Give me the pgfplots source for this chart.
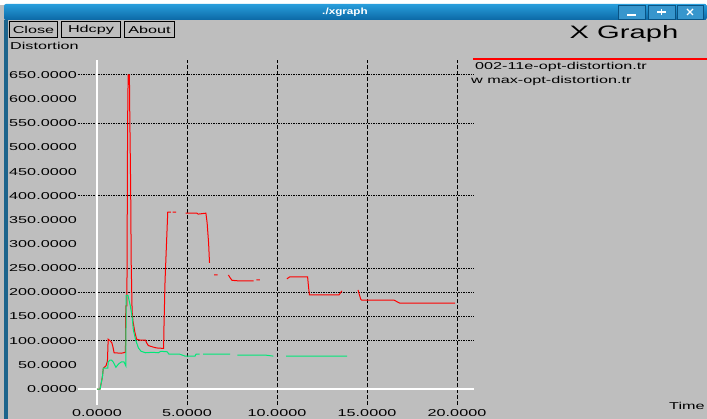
\documentclass[border=0pt]{standalone}
\usepackage{fontspec}
\setmainfont{Liberation Sans}
\usepackage{graphicx}
\usepackage{pgfplots}
\pgfplotsset{compat=1.18}
\definecolor{bg}{RGB}{190,190,190}
\definecolor{xgred}{RGB}{255,0,0}
\definecolor{xggreen}{RGB}{0,232,120}
\definecolor{wmtop}{RGB}{40,158,220}
\definecolor{wmbot}{RGB}{12,104,165}
\definecolor{wmside}{RGB}{28,100,140}
\definecolor{wmbtn}{RGB}{55,150,205}
\newcommand\xs[1]{\scalebox{1.62}[1]{#1}}
\begin{document}
\begin{tikzpicture}[x=1pt,y=1pt,font=\fontsize{10}{12}\selectfont]
\fill[bg] (0,0) rectangle (707,419);
\fill[white] (0,414) rectangle (707,419);
\shade[top color=wmtop,bottom color=wmbot,rounded corners=2pt] (4,399) rectangle (707,415);
\fill[wmside] (4,0) rectangle (8,399);
% window buttons
\foreach \a/\b in {618/645,648/675,677/703}{
  \fill[wmbtn] (\a,400) rectangle (\b,414);
  \draw[wmbot!80!black,line width=0.6pt] (\a,400) rectangle (\b,414);
}
\draw[white,line width=1.2pt] (627,404) -- (636,404);
\draw[white,line width=1.2pt] (657,407) -- (666,407) (661.5,404) -- (661.5,410);
\draw[white,line width=1.2pt] (687,404) -- (693,410) (687,410) -- (693,404);
\node[white,font=\bfseries\fontsize{9}{10}\selectfont] at (345,407) {\scalebox{1.3}[1]{./xgraph}};
% app buttons
\draw[black,fill=bg,line width=0.8pt] (9.5,381.5) rectangle (57.5,397.5);
\node at (33.5,389.5) {\xs{Close}};
\draw[black,fill=bg,line width=0.8pt] (61.5,381.5) rectangle (120.5,397.5);
\node at (91,389.5) {\xs{Hdcpy}};
\draw[black,fill=bg,line width=0.8pt] (124.5,381.5) rectangle (174.5,397.5);
\node at (149.5,389.5) {\xs{About}};
\node[anchor=west,inner sep=0pt] at (10,373) {\xs{Distortion}};
\node[font=\fontsize{18}{20}\selectfont] at (624,385) {\scalebox{1.62}[1]{X Graph}};
% legend
\fill[red] (473,358.5) rectangle (707,360.5);
\node[anchor=west,inner sep=0pt] at (475,352) {\xs{002-11e-opt-distortion.tr}};
\node[anchor=west,inner sep=0pt] at (471,338) {\xs{w max-opt-distortion.tr}};
\node[anchor=west,inner sep=0pt] at (669,13) {\xs{Time}};
\begin{axis}[
  at={(78pt,14pt)}, anchor=south west,
  scale only axis, width=396pt, height=345pt,
  xmin=-1.056, xmax=20.944, ymin=-33.1, ymax=681,
  axis line style={draw=none}, tick style={draw=none},
  xtick={0,5,10,15,20}, ytick={0,50,...,650},
  xmajorgrids=true, ymajorgrids=false,
  major grid style={black,line width=1pt,dash pattern=on 4pt off 2pt},
  extra y ticks={100,150,200,250,400,550,650},
  extra y tick labels={},
  extra y tick style={ymajorgrids=true, major grid style={black,line width=1pt,dash pattern=on 2pt off 1pt on 1pt off 1pt}},
  yticklabel={\xs{\pgfmathprintnumber[fixed,fixed zerofill,precision=4,assume math mode=true]{\tick}}},
  xticklabel={\xs{\pgfmathprintnumber[fixed,fixed zerofill,precision=4,assume math mode=true]{\tick}}},
  yticklabel style={anchor=east,inner sep=0pt,xshift=-1pt},
  xticklabel style={anchor=north,inner sep=0pt,yshift=-4pt},
  unbounded coords=jump,
  font=\fontsize{10}{12}\selectfont,
]
\draw[white,line width=1.3pt] (axis cs:0,-33.1) -- (axis cs:0,681);
\draw[white,line width=1.3pt] (axis cs:-1.056,0) -- (axis cs:20.944,0);
\addplot[xgred,line width=1pt] coordinates {
(0,0) (0.17,0) (0.2,6) (0.3,25) (0.35,43) (0.5,48) (0.58,58) (0.62,103) (0.72,100) (0.82,96) (0.88,88) (0.95,75) (1.35,74) (1.58,76) (1.6,172) (1.66,172) (1.68,360) (1.7,550) (1.73,650) (1.8,650) (1.82,571) (1.87,416) (1.9,261) (1.95,160) (2.0,140) (2.1,118) (2.2,103) (2.4,101) (2.7,101) (2.75,96) (2.85,90) (3.1,87) (3.3,85) (3.7,84) (3.72,128) (3.78,224) (3.88,319) (3.93,366) (4.1,366) (4.15,nan) (4.2,366) (4.4,366) (4.6,nan) (4.92,364) (5.55,364) (5.62,362) (5.85,363) (6.05,364) (6.12,343) (6.2,302) (6.25,261) (6.35,nan) (6.5,236) (6.7,236) (7.0,nan) (7.3,236) (7.4,230) (7.5,225) (7.8,224) (8.7,224) (8.78,nan) (8.85,226) (9.05,226) (9.5,nan) (10.55,228) (10.7,232) (11.7,232) (11.75,212) (11.8,195) (13.45,195) (13.6,203) (14,nan) (14.5,205) (14.65,186) (14.7,184) (16.5,184) (16.8,178) (19.9,178)
};
\addplot[xggreen,line width=1pt] coordinates {
(0,0) (0.17,0) (0.2,6) (0.3,25) (0.35,43) (0.6,43) (0.62,56) (0.72,60) (0.8,60) (0.9,56) (1.05,45) (1.2,52) (1.35,56) (1.5,56) (1.6,48) (1.62,194) (1.72,194) (1.85,172) (1.95,150) (2.02,122) (2.15,101) (2.3,85) (2.45,78) (2.7,75) (3.1,76) (3.4,75) (3.55,78) (3.9,77) (4.0,72) (4.6,72) (4.9,68) (5.45,68) (5.5,72) (5.7,72) (5.8,nan) (5.9,72) (7.4,72) (7.6,nan) (7.8,70) (9.4,70) (9.8,68) (10.1,nan) (10.5,68) (13.9,68)
};
\end{axis}
\pgfresetboundingbox
\path[use as bounding box] (0,0) rectangle (707,419);
\end{tikzpicture}
\end{document}
